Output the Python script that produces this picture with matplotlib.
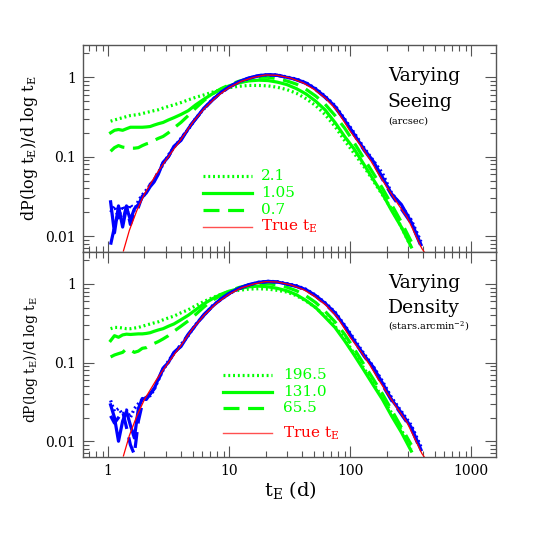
import numpy as np
import matplotlib
matplotlib.use("Agg")
from matplotlib import pyplot as plt
from matplotlib.ticker import FixedLocator, NullFormatter, LogLocator

plt.rcParams['font.family'] = ['DejaVu Serif']
plt.rcParams['mathtext.fontset'] = 'dejavuserif'

# ---- data ----
# true t_E distribution (red)
t_true = [1.34, 1.5, 1.73, 2.0, 2.5, 3.15, 4.0, 5.0, 6.3, 8.0, 10, 12.6, 16, 20, 25, 32,
          41, 50, 63, 78, 100, 126, 146, 175, 200, 250, 294, 340, 391, 410]
p_true = [0.0065, 0.0118, 0.021, 0.034, 0.06, 0.1, 0.165, 0.27, 0.41, 0.58, 0.74, 0.89, 1.0,
          1.07, 1.06, 0.98, 0.85, 0.71, 0.54, 0.38, 0.21, 0.13, 0.092, 0.058, 0.042, 0.025,
          0.0175, 0.011, 0.0070, 0.0063]

# observed grid
t_obs = [1.05, 1.13, 1.22, 1.32, 1.42, 1.53, 1.65, 1.78, 1.92, 2.07, 2.23, 2.4, 2.6, 2.85,
         3.15, 3.5, 4.0, 4.6, 5.3, 6.2, 7.3, 8.6, 10, 12, 14.5, 17.5, 21, 25, 30, 36, 43, 52,
         62, 75, 90, 108, 130, 155, 185, 220, 265, 320, 385]

# top panel: varying seeing (arcsec)
seeing_labels = ["2.1", "1.05", "0.7"]
seeing_green = [
    [0.28, 0.29, 0.30, 0.31, 0.32, 0.33, 0.335, 0.34, 0.35, 0.36, 0.37, 0.38, 0.39, 0.41,
     0.43, 0.45, 0.48, 0.52, 0.56, 0.60, 0.65, 0.70, 0.74, 0.77, 0.79, 0.79, 0.78, 0.75,
     0.70, 0.63, 0.54, 0.44, 0.34, 0.24, 0.16, 0.11, 0.075, 0.05, 0.033, 0.022, 0.013,
     0.0072, np.nan],
    [0.20, 0.215, 0.22, 0.215, 0.225, 0.235, 0.235, 0.235, 0.235, 0.237, 0.24, 0.25, 0.26,
     0.27, 0.29, 0.31, 0.34, 0.38, 0.45, 0.53, 0.62, 0.71, 0.78, 0.85, 0.90, 0.92, 0.91,
     0.87, 0.81, 0.72, 0.62, 0.50, 0.39, 0.27, 0.18, 0.125, 0.08, 0.052, 0.034, 0.021,
     0.013, 0.0073, np.nan],
    [0.117, 0.13, 0.138, 0.132, 0.13, 0.128, 0.128, 0.13, 0.138, 0.145, 0.15, 0.16, 0.17,
     0.18, 0.20, 0.23, 0.27, 0.33, 0.41, 0.51, 0.62, 0.72, 0.80, 0.89, 0.96, 1.0, 1.0,
     0.96, 0.90, 0.82, 0.71, 0.58, 0.46, 0.33, 0.23, 0.15, 0.095, 0.062, 0.04, 0.025,
     0.015, 0.0085, np.nan],
]
seeing_blue = [
    [0.020, 0.024, 0.017, 0.024, 0.019, 0.025, 0.021, 0.028, 0.033, 0.038, 0.044, 0.05,
     0.063, 0.08, 0.105, 0.13, 0.17, 0.22, 0.305, 0.40, 0.53, 0.64, 0.75, 0.87, 0.97,
     1.05, 1.08, 1.07, 1.01, 0.95, 0.86, 0.72, 0.58, 0.44, 0.30, 0.20, 0.13, 0.09, 0.062,
     0.035, 0.024, 0.016, 0.0085],
    [0.027, 0.011, 0.024, 0.013, 0.023, 0.016, 0.022, 0.025, 0.031, 0.035, 0.042, 0.048,
     0.06, 0.085, 0.10, 0.135, 0.16, 0.225, 0.30, 0.41, 0.52, 0.65, 0.76, 0.88, 0.98,
     1.05, 1.08, 1.06, 1.0, 0.94, 0.85, 0.71, 0.57, 0.43, 0.29, 0.19, 0.125, 0.088,
     0.055, 0.034, 0.025, 0.015, 0.0078],
    [0.0078, 0.013, 0.02, 0.015, 0.024, 0.014, 0.02, 0.023, 0.032, 0.034, 0.045, 0.05,
     0.065, 0.083, 0.10, 0.132, 0.165, 0.23, 0.30, 0.40, 0.52, 0.64, 0.75, 0.87, 0.97,
     1.04, 1.07, 1.06, 1.0, 0.93, 0.84, 0.70, 0.56, 0.42, 0.29, 0.19, 0.122, 0.085,
     0.052, 0.033, 0.022, 0.0145, 0.0075],
]

# bottom panel: varying density (stars/arcmin^2)
density_labels = ["196.5", "131.0", "65.5"]
density_green = [
    [0.27, 0.28, 0.28, 0.275, 0.27, 0.27, 0.275, 0.28, 0.29, 0.30, 0.31, 0.32, 0.33, 0.35,
     0.37, 0.39, 0.43, 0.47, 0.53, 0.60, 0.67, 0.74, 0.79, 0.83, 0.86, 0.87, 0.86, 0.83,
     0.79, 0.71, 0.61, 0.50, 0.39, 0.29, 0.20, 0.13, 0.085, 0.055, 0.036, 0.023, 0.014,
     0.008, np.nan],
    [0.19, 0.22, 0.21, 0.225, 0.23, 0.228, 0.23, 0.232, 0.232, 0.235, 0.24, 0.25, 0.26,
     0.27, 0.29, 0.31, 0.35, 0.40, 0.47, 0.56, 0.65, 0.74, 0.81, 0.87, 0.92, 0.94, 0.92,
     0.88, 0.82, 0.73, 0.62, 0.50, 0.38, 0.28, 0.19, 0.125, 0.08, 0.052, 0.034, 0.021,
     0.013, 0.0075, np.nan],
    [0.118, 0.125, 0.13, 0.135, 0.15, 0.145, 0.135, 0.14, 0.152, 0.155, 0.165, 0.175,
     0.185, 0.20, 0.22, 0.25, 0.29, 0.34, 0.41, 0.51, 0.62, 0.72, 0.81, 0.90, 0.97, 1.01,
     1.01, 0.97, 0.91, 0.82, 0.71, 0.58, 0.45, 0.33, 0.23, 0.15, 0.095, 0.062, 0.04,
     0.025, 0.015, 0.009, np.nan],
]
density_blue = [
    [0.033, 0.024, 0.026, 0.022, 0.025, 0.02, 0.026, 0.03, 0.034, 0.036, 0.038, 0.045,
     0.06, 0.08, 0.105, 0.13, 0.17, 0.22, 0.305, 0.40, 0.53, 0.64, 0.75, 0.87, 0.97,
     1.05, 1.08, 1.07, 1.01, 0.95, 0.86, 0.72, 0.58, 0.44, 0.30, 0.20, 0.13, 0.09, 0.058,
     0.036, 0.024, 0.016, 0.0085],
    [0.029, 0.02, 0.01, 0.018, 0.024, 0.016, 0.011, 0.026, 0.035, 0.034, 0.04, 0.046,
     0.062, 0.085, 0.10, 0.135, 0.16, 0.225, 0.30, 0.41, 0.52, 0.65, 0.76, 0.88, 0.98,
     1.05, 1.08, 1.06, 1.0, 0.94, 0.85, 0.71, 0.57, 0.43, 0.29, 0.19, 0.125, 0.088,
     0.055, 0.034, 0.023, 0.015, 0.0078],
    [0.021, 0.017, 0.02, 0.024, 0.015, 0.009, 0.0068, 0.018, 0.03, 0.036, 0.04, 0.047,
     0.06, 0.083, 0.10, 0.132, 0.165, 0.23, 0.30, 0.40, 0.52, 0.64, 0.75, 0.87, 0.97,
     1.04, 1.07, 1.06, 1.0, 0.93, 0.84, 0.70, 0.56, 0.42, 0.29, 0.19, 0.122, 0.085,
     0.052, 0.033, 0.022, 0.0145, 0.0075],
]

styles = [(0, (0.6, 0.9)), '-', (0, (5, 2.7))]
GREEN = '#00ff00'
BLUE = '#0000ff'
RED = '#ff0000'
AX_COL = '#555555'


def setup(ax, xlabels):
    ax.set_xscale('log')
    ax.set_yscale('log')
    ax.set_xlim(0.621, 1607)
    ax.set_ylim(0.0063, 2.55)
    ax.xaxis.set_major_locator(FixedLocator([1, 10, 100, 1000]))
    ax.xaxis.set_minor_locator(LogLocator(base=10, subs=np.arange(2, 10)))
    ax.yaxis.set_major_locator(FixedLocator([0.01, 0.1, 1]))
    ax.yaxis.set_minor_locator(LogLocator(base=10, subs=np.arange(2, 10)))
    ax.yaxis.set_minor_formatter(NullFormatter())
    ax.xaxis.set_minor_formatter(NullFormatter())
    ax.set_yticklabels(['0.01', '0.1', '1'])
    if xlabels:
        ax.set_xticklabels(['1', '10', '100', '1000'])
    else:
        ax.set_xticklabels([])
    ax.tick_params(which='both', direction='in', top=True, right=True,
                   color=AX_COL, width=0.8, labelsize=10)
    ax.tick_params(which='major', length=8, pad=5)
    ax.tick_params(which='minor', length=4)
    for s in ax.spines.values():
        s.set_color(AX_COL)
        s.set_linewidth(1.0)


def draw(ax, green, blue, labels, key_x, key_y, text_x):
    for y, ls in zip(green, styles):
        ax.plot(t_obs, y, color=GREEN, lw=2.3, ls=ls)
    for y, ls in zip(blue, styles):
        ax.plot(t_obs, y, color=BLUE, lw=2.3, ls=ls)
    ax.plot(t_true, p_true, color=RED, lw=0.9)
    # legend keys
    for i, ls in enumerate(styles):
        ax.plot(key_x, [key_y[i], key_y[i]], color=GREEN, lw=2.3, ls=ls,
                transform=ax.transAxes)
        ax.text(text_x, key_y[i], labels[i], color=GREEN, fontsize=11,
                va='center', ha='left', transform=ax.transAxes)
    ax.plot(key_x, [key_y[3], key_y[3]], color='#ff5050', lw=1.0, transform=ax.transAxes)
    ax.text(text_x, key_y[3], r'True t$_{\rm E}$', color=RED, fontsize=11,
            va='center', ha='left', transform=ax.transAxes)


fig = plt.figure(figsize=(5.4, 5.4), dpi=100)
ax1 = fig.add_axes([0.1537, 0.5333, 0.765, 0.3833])
ax2 = fig.add_axes([0.1537, 0.1537, 0.765, 0.3796])

setup(ax1, False)
setup(ax2, True)

draw(ax1, seeing_green, seeing_blue, seeing_labels,
     [0.291, 0.409], [0.367, 0.284, 0.203, 0.122], 0.431)
draw(ax2, density_green, density_blue, density_labels,
     [0.339, 0.458], [0.40, 0.318, 0.24, 0.118], 0.4835)

ax1.text(0.738, 0.85, 'Varying', fontsize=13.5, va='center', transform=ax1.transAxes)
ax1.text(0.738, 0.726, 'Seeing', fontsize=13.5, va='center', transform=ax1.transAxes)
ax1.text(0.738, 0.633, '(arcsec)', fontsize=7, va='center', transform=ax1.transAxes)
ax2.text(0.738, 0.847, 'Varying', fontsize=13.5, va='center', transform=ax2.transAxes)
ax2.text(0.738, 0.725, 'Density', fontsize=13.5, va='center', transform=ax2.transAxes)
ax2.text(0.738, 0.639, r'(stars.arcmin$^{-2}$)', fontsize=7, va='center',
         transform=ax2.transAxes)

fig.text(30 / 540, 1 - 148 / 540, r'dP(log t$_{\rm E}$)/d log t$_{\rm E}$',
         rotation=90, ha='center', va='center', fontsize=11.5)
fig.text(30 / 540, 1 - 360 / 540, r'dP(log t$_{\rm E}$)/d log t$_{\rm E}$',
         rotation=90, ha='center', va='center', fontsize=10)
fig.text(290 / 540, 1 - 490 / 540, r't$_{\rm E}$ (d)', ha='center', va='center',
         fontsize=14)

fig.savefig('out.png', dpi=100)
